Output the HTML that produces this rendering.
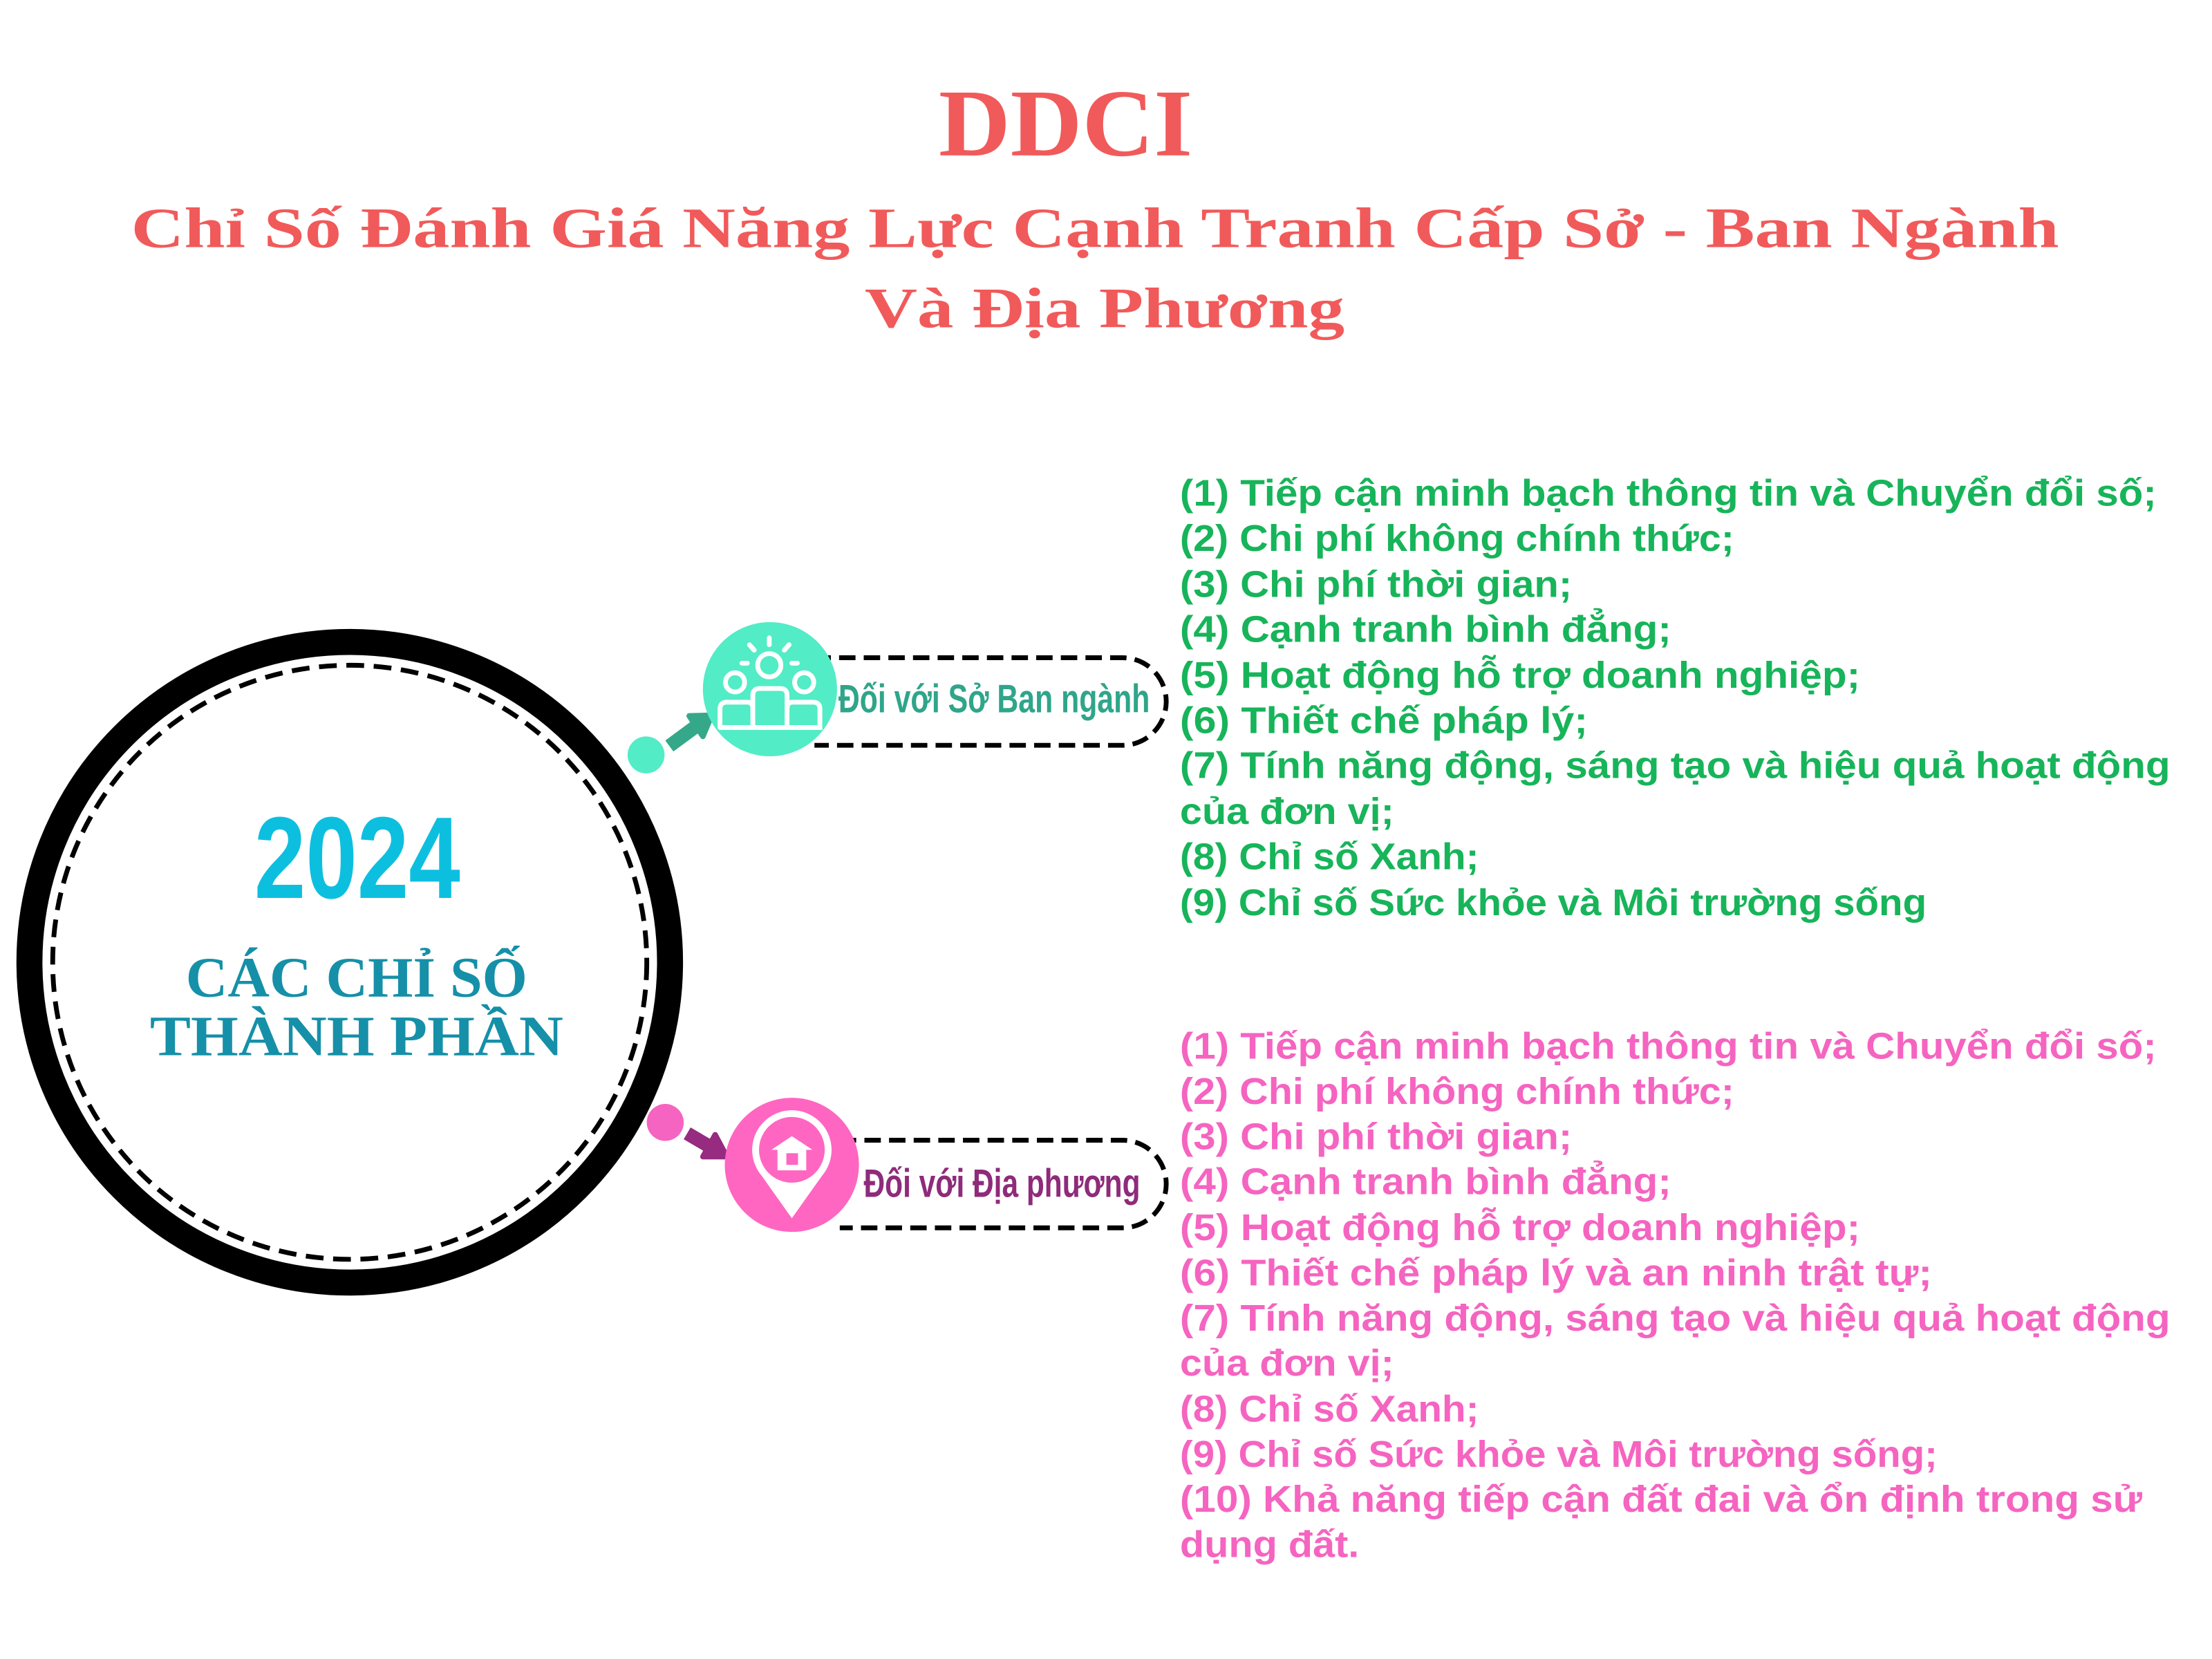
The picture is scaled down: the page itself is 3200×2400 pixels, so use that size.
<!DOCTYPE html>
<html><head><meta charset="utf-8"><style>
html,body{margin:0;padding:0;background:#fff;width:3200px;height:2400px;overflow:hidden}
svg{display:block}
.t{font-family:"Liberation Serif",serif;font-weight:bold}
.l{font-family:"Liberation Sans Narrow","Liberation Sans",sans-serif;font-weight:bold;font-size:54px}
.g{fill:#17b45a}.p{fill:#f564c0}
</style></head><body>
<svg width="3200" height="2400" viewBox="0 0 3232 2424" xmlns="http://www.w3.org/2000/svg">
<text class="t" x="1557" y="227" text-anchor="middle" font-size="140" fill="#f15a5a" textLength="371" lengthAdjust="spacingAndGlyphs">DDCI</text>
<text class="t" x="1600" y="361" text-anchor="middle" font-size="84" fill="#f15a5a" textLength="2817" lengthAdjust="spacingAndGlyphs">Chỉ Số Đánh Giá Năng Lực Cạnh Tranh Cấp Sở - Ban Ngành</text>
<text class="t" x="1614" y="478" text-anchor="middle" font-size="84" fill="#f15a5a" textLength="701" lengthAdjust="spacingAndGlyphs">Và Địa Phương</text>

<circle cx="511" cy="1406" r="468" fill="none" stroke="#000" stroke-width="38"/>
<circle cx="511" cy="1406" r="434" fill="none" stroke="#000" stroke-width="7" stroke-dasharray="26 14"/>
<text x="522" y="1312" text-anchor="middle" font-family="Liberation Sans Narrow,Liberation Sans,sans-serif" font-weight="bold" font-size="170" fill="#0dbfdf" textLength="301" lengthAdjust="spacingAndGlyphs">2024</text>
<text class="t" x="521" y="1456" text-anchor="middle" font-size="84" fill="#1590a8" textLength="499" lengthAdjust="spacingAndGlyphs">CÁC CHỈ SỐ</text>
<text class="t" x="521" y="1542" text-anchor="middle" font-size="84" fill="#1590a8" textLength="604" lengthAdjust="spacingAndGlyphs">THÀNH PHẦN</text>

<!-- green branch -->
<path d="M1190 961 H1640 A64 64 0 0 1 1640 1089 H1190" fill="none" stroke="#000" stroke-width="7" stroke-dasharray="24 12"/>
<circle cx="944" cy="1103" r="27" fill="#52ecc6"/>
<line x1="978" y1="1090" x2="1020" y2="1059" stroke="#35a88a" stroke-width="20"/>
<polygon points="1040,1045 1027,1076 1007,1046" fill="#35a88a" stroke="#35a88a" stroke-width="8" stroke-linejoin="round"/>
<g transform="translate(12,0)">
<circle cx="1113" cy="1007" r="98" fill="#52ecc6"/>
<g fill="none" stroke="#fff" stroke-width="7" stroke-linecap="round">
<circle cx="1112" cy="972" r="17"/><circle cx="1062" cy="997" r="14"/><circle cx="1163" cy="997" r="14"/>
<line x1="1112" y1="932" x2="1112" y2="942"/><line x1="1083" y1="942" x2="1090" y2="950"/><line x1="1141" y1="942" x2="1134" y2="950"/>
<line x1="1072" y1="969" x2="1080" y2="969"/><line x1="1145" y1="969" x2="1153" y2="969"/>
<path d="M1088 1063 V1016 Q1088 1006 1098 1006 H1128 Q1138 1006 1138 1016 V1063"/>
<path d="M1040 1063 V1036 Q1040 1026 1050 1026 H1080 Q1088 1026 1088 1036 M1138 1036 Q1138 1026 1146 1026 H1176 Q1186 1026 1186 1036 V1063 H1040"/>
</g>
</g>
<text x="1225" y="1041" font-family="Liberation Sans Narrow,Liberation Sans,sans-serif" font-weight="bold" font-size="58" fill="#2fa58a" textLength="455" lengthAdjust="spacingAndGlyphs">Đối với Sở Ban ngành</text>

<!-- pink branch -->
<path d="M1227 1666 H1640 A64 64 0 0 1 1640 1794 H1227" fill="none" stroke="#000" stroke-width="7" stroke-dasharray="24 12"/>
<circle cx="972" cy="1640" r="27" fill="#f564c0"/>
<line x1="1004" y1="1656" x2="1040" y2="1677" stroke="#962b7f" stroke-width="20"/>
<polygon points="1062,1690 1027,1690 1045,1658" fill="#962b7f" stroke="#962b7f" stroke-width="8" stroke-linejoin="round"/>
<g transform="translate(11,0)">
<circle cx="1146" cy="1702" r="98" fill="#ff66c2"/>
<path d="M1146 1780 L1102 1718 A58 58 0 1 1 1190 1718 Z" fill="#fff"/>
<circle cx="1146" cy="1680" r="48" fill="#ff66c2"/>
<polygon points="1116,1680 1146,1660 1176,1680" fill="#fff"/>
<rect x="1125" y="1678" width="42" height="32" fill="#fff"/>
<rect x="1138" y="1685" width="17" height="17" fill="#ff66c2"/>
</g>
<text x="1262" y="1749" font-family="Liberation Sans Narrow,Liberation Sans,sans-serif" font-weight="bold" font-size="58" fill="#8e2b7a" textLength="404" lengthAdjust="spacingAndGlyphs">Đối với Địa phương</text>

<g class="l">
<text class="g" x="1724" y="739" textLength="1427" lengthAdjust="spacingAndGlyphs">(1) Tiếp cận minh bạch thông tin và Chuyển đổi số;</text>
<text class="g" x="1724" y="805" textLength="810" lengthAdjust="spacingAndGlyphs">(2) Chi phí không chính thức;</text>
<text class="g" x="1724" y="872" textLength="573" lengthAdjust="spacingAndGlyphs">(3) Chi phí thời gian;</text>
<text class="g" x="1724" y="938" textLength="718" lengthAdjust="spacingAndGlyphs">(4) Cạnh tranh bình đẳng;</text>
<text class="g" x="1724" y="1005" textLength="994" lengthAdjust="spacingAndGlyphs">(5) Hoạt động hỗ trợ doanh nghiệp;</text>
<text class="g" x="1724" y="1071" textLength="596" lengthAdjust="spacingAndGlyphs">(6) Thiết chế pháp lý;</text>
<text class="g" x="1724" y="1137" textLength="1447" lengthAdjust="spacingAndGlyphs">(7) Tính năng động, sáng tạo và hiệu quả hoạt động</text>
<text class="g" x="1724" y="1204" textLength="313" lengthAdjust="spacingAndGlyphs">của đơn vị;</text>
<text class="g" x="1724" y="1270" textLength="437" lengthAdjust="spacingAndGlyphs">(8) Chỉ số Xanh;</text>
<text class="g" x="1724" y="1337" textLength="1091" lengthAdjust="spacingAndGlyphs">(9) Chỉ số Sức khỏe và Môi trường sống</text>

<text class="p" x="1724" y="1547" textLength="1427" lengthAdjust="spacingAndGlyphs">(1) Tiếp cận minh bạch thông tin và Chuyển đổi số;</text>
<text class="p" x="1724" y="1613" textLength="810" lengthAdjust="spacingAndGlyphs">(2) Chi phí không chính thức;</text>
<text class="p" x="1724" y="1679" textLength="573" lengthAdjust="spacingAndGlyphs">(3) Chi phí thời gian;</text>
<text class="p" x="1724" y="1745" textLength="718" lengthAdjust="spacingAndGlyphs">(4) Cạnh tranh bình đẳng;</text>
<text class="p" x="1724" y="1812" textLength="994" lengthAdjust="spacingAndGlyphs">(5) Hoạt động hỗ trợ doanh nghiệp;</text>
<text class="p" x="1724" y="1878" textLength="1099" lengthAdjust="spacingAndGlyphs">(6) Thiết chế pháp lý và an ninh trật tự;</text>
<text class="p" x="1724" y="1944" textLength="1447" lengthAdjust="spacingAndGlyphs">(7) Tính năng động, sáng tạo và hiệu quả hoạt động</text>
<text class="p" x="1724" y="2010" textLength="313" lengthAdjust="spacingAndGlyphs">của đơn vị;</text>
<text class="p" x="1724" y="2077" textLength="437" lengthAdjust="spacingAndGlyphs">(8) Chỉ số Xanh;</text>
<text class="p" x="1724" y="2143" textLength="1107" lengthAdjust="spacingAndGlyphs">(9) Chỉ số Sức khỏe và Môi trường sống;</text>
<text class="p" x="1724" y="2209" textLength="1406" lengthAdjust="spacingAndGlyphs">(10) Khả năng tiếp cận đất đai và ổn định trong sử</text>
<text class="p" x="1724" y="2275" textLength="262" lengthAdjust="spacingAndGlyphs">dụng đất.</text>
</g>
</svg>
</body></html>
